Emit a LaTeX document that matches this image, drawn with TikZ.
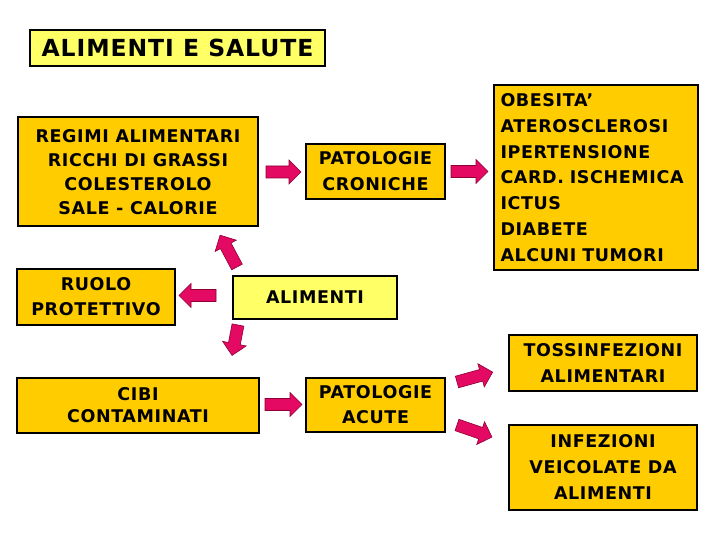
\documentclass[tikz,border=0pt]{standalone}
\usepackage{fontspec}
\setmainfont{DejaVu Sans}
\newfontfamily\boxfont[LetterSpace=3.5]{DejaVu Sans}
\newfontfamily\titlefont[LetterSpace=4]{DejaVu Sans}
\usetikzlibrary{calc}
\definecolor{gold}{RGB}{255,204,0}
\definecolor{pale}{RGB}{255,255,102}
\definecolor{arrowfill}{RGB}{228,10,100}
\definecolor{arrowline}{RGB}{140,0,50}
\tikzset{
  box/.style={draw=black, line width=2pt, fill=gold, align=center, inner sep=0pt,
    font=\boxfont\bfseries\fontsize{17.5}{25}\selectfont},
  palebox/.style={box, fill=pale},
  arrowcol/.style={fill=arrowfill, draw=arrowline, line width=0.6pt, line join=miter},
  pics/barrow/.style={code={
    \draw[arrowcol] (0,-6) -- ({#1-12},-6) -- ({#1-12},-12) -- (#1,0) -- ({#1-12},12) -- ({#1-12},6) -- (0,6) -- cycle;}}
}
\begin{document}
\begin{tikzpicture}[x=1pt,y=1pt]
\useasboundingbox (0,0) rectangle (720,540);
\fill[white] (0,0) rectangle (720,540);

\node[palebox, minimum width=295, minimum height=36, font=\titlefont\bfseries\fontsize{23.5}{28}\selectfont] (title) at (177.5,492) {ALIMENTI E SALUTE};

\node[box, minimum width=240, minimum height=109, font=\boxfont\bfseries\fontsize{17.5}{24}\selectfont] (regimi) at (138,368) {REGIMI ALIMENTARI\\RICCHI DI GRASSI\\COLESTEROLO\\SALE - CALORIE};
\node[box, minimum width=139, minimum height=55, font=\boxfont\bfseries\fontsize{17.5}{26}\selectfont] (patcron) at (375.5,368.5) {PATOLOGIE\\CRONICHE};
\node[box, minimum width=204, minimum height=185, text width=190, align=left, inner xsep=7, font=\boxfont\bfseries\fontsize{17.5}{25.8}\selectfont] (obes) at (595.5,362.5) {OBESITA’\\ATEROSCLEROSI\\IPERTENSIONE\\CARD. ISCHEMICA\\ICTUS\\DIABETE\\ALCUNI TUMORI};

\node[box, minimum width=158, minimum height=56] (ruolo) at (96,243) {RUOLO\\PROTETTIVO};
\node[palebox, minimum width=164, minimum height=43] (alim) at (315,242.5) {ALIMENTI};

\node[box, minimum width=242, minimum height=55, font=\boxfont\bfseries\fontsize{17.5}{22}\selectfont] (cibi) at (138,134.5) {CIBI\\CONTAMINATI};
\node[box, minimum width=139, minimum height=54] (patacu) at (375.5,135) {PATOLOGIE\\ACUTE};

\node[box, minimum width=188, minimum height=56, font=\boxfont\bfseries\fontsize{17.5}{26}\selectfont] (toss) at (603,177) {TOSSINFEZIONI\\ALIMENTARI};
\node[box, minimum width=188, minimum height=85, font=\boxfont\bfseries\fontsize{17.5}{26}\selectfont] (infez) at (603,72.5) {INFEZIONI\\VEICOLATE DA\\ALIMENTI};

% block arrows
\coordinate (a1) at ($(regimi.east)+(7,0)$);
\coordinate (a2) at ($(patcron.east)+(5,0)$);
\coordinate (a3) at ($(alim.west)+(-16,2)$);
\coordinate (a4) at (237,273);
\coordinate (a5) at (238,215);
\coordinate (a6) at ($(cibi.east)+(5,1)$);
\coordinate (a7) at (457,158);
\coordinate (a8) at (457,115);

\pic at (a1) {barrow=35};
\pic at (a2) {barrow=37};
\pic[rotate=180] at (a3) {barrow=37};
\pic[rotate=118] at (a4) {barrow=36};
\pic[rotate=259] at (a5) {barrow=31};
\pic at (a6) {barrow=37};
\pic[rotate=15.5] at (a7) {barrow=37};
\pic[rotate=-19] at (a8) {barrow=37};
\end{tikzpicture}
\end{document}
